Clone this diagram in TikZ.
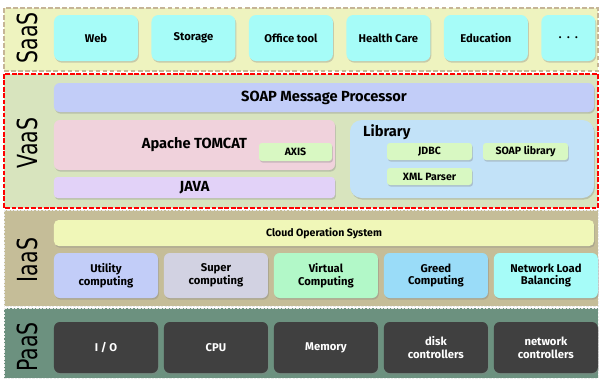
\documentclass[tikz,border=0pt]{standalone}
\usepackage{fontspec}
\setmainfont{Fira Sans}
\newfontfamily\layerfont{DejaVu Sans}
\usetikzlibrary{positioning, shadows}

\definecolor{saasbg}{HTML}{EEF3BF}
\definecolor{saasline}{HTML}{C6B596}
\definecolor{vaasbg}{HTML}{D8E4BE}
\definecolor{iaasbg}{HTML}{C5BD98}
\definecolor{paasbg}{HTML}{6C917F}
\definecolor{cyanbox}{HTML}{A6FCF8}
\definecolor{soapbox}{HTML}{C2CDF8}
\definecolor{tomcatbox}{HTML}{F0D2DC}
\definecolor{greenbox}{HTML}{D8F8C2}
\definecolor{javabox}{HTML}{E2D2F8}
\definecolor{libbox}{HTML}{C2E2F8}
\definecolor{cloudbox}{HTML}{F0F7B8}
\definecolor{superbox}{HTML}{D2D2E2}
\definecolor{virtbox}{HTML}{B2F8C8}
\definecolor{greedbox}{HTML}{9ADCF8}
\definecolor{darkbox}{HTML}{404040}

\begin{document}
\begin{tikzpicture}[
  x=0.03cm, y=-0.03cm,
  box/.style={rounded corners=5pt, inner sep=0pt, align=center,
    font=\bfseries\fontsize{9.6}{11}\selectfont,
    drop shadow={shadow xshift=0.8pt, shadow yshift=-1.4pt, opacity=0.35}},
  small/.style={box, rounded corners=2.5pt, fill=greenbox,
    font=\bfseries\fontsize{9}{10.5}\selectfont},
  big/.style={box, font=\bfseries\fontsize{12.5}{14}\selectfont},
  layername/.style={rotate=90, font=\layerfont\fontsize{17.5}{17.5}\selectfont},
]
\useasboundingbox (0,0) rectangle (601,380);

% layers
\fill[saasbg] (4,8) rectangle (598,71);
\draw[saasline, line width=1.4pt, dash pattern=on 4pt off 2pt] (4,8) rectangle (598,71);
\fill[vaasbg] (4,74) rectangle (598,208);
\draw[red, line width=1.5pt, dash pattern=on 4pt off 1.5pt] (4,74) rectangle (598,208);
\fill[iaasbg] (4,210) rectangle (598,306);
\draw[white!85!gray, line width=0.8pt, dash pattern=on 2pt off 1pt] (4,210) rectangle (598,306);
\fill[paasbg] (4,308) rectangle (598,378);
\draw[white!85!gray, line width=0.8pt, dash pattern=on 2pt off 1pt] (4,308) rectangle (598,378);

\node[layername] (saas) at (27,38)  {\scalebox{1}[1.35]{SaaS}};
\node[layername] (vaas) at (27,143) {\scalebox{1}[1.35]{VaaS}};
\node[layername] (iaas) at (27,260) {\scalebox{1}[1.35]{IaaS}};
\node[layername] (paas) at (27,347) {\scalebox{1}[1.35]{PaaS}};

% SaaS
\tikzset{saas/.style={box, fill=cyanbox, rounded corners=6pt,
  minimum width=2.52cm, minimum height=1.38cm}}
\node[saas] (web) at (96,38) {Web};
\node[saas, right=0.39cm of web]     (storage) {Storage};
\node[saas, right=0.39cm of storage] (office)  {Office tool};
\node[saas, right=0.39cm of office]  (health)  {Health Care};
\node[saas, right=0.39cm of health]  (edu)     {Education};
\node[saas, right=0.39cm of edu, minimum width=1.62cm] (more) {.\ \ .\ \ .};

% VaaS
\node[big, fill=soapbox, minimum width=16.2cm, minimum height=0.87cm] (soap) at (324,97.5) {SOAP Message Processor};
\node[big, fill=tomcatbox, minimum width=8.43cm, minimum height=1.5cm] (tomcat) at (194.5,145) {Apache TOMCAT};
\node[small, minimum width=2.19cm, minimum height=0.54cm] (axis) at (295.5,152) {AXIS};
\node[big, fill=javabox, rounded corners=3pt, minimum width=8.43cm, minimum height=0.63cm] (java) at (194.5,187.5) {JAVA};
\node[box, fill=libbox, rounded corners=10pt, minimum width=7.32cm, minimum height=2.34cm] (lib) at (472,159) {};
\node[font=\bfseries\fontsize{12.5}{14}\selectfont, anchor=west] (libname) at (359,132) {Library};
\node[small, minimum width=2.55cm, minimum height=0.51cm] (jdbc) at (429.5,151.5) {JDBC};
\node[small, minimum width=2.55cm, minimum height=0.51cm] (soaplib) at (525.5,151.5) {SOAP library};
\node[small, minimum width=2.55cm, minimum height=0.51cm] (xml) at (429.5,176.5) {XML Parser};

% IaaS
\node[small, fill=cloudbox, rounded corners=4pt, minimum width=16.2cm, minimum height=0.78cm] (cloud) at (324,233) {Cloud Operation System};
\tikzset{iaas/.style={box, minimum width=3.12cm, minimum height=1.35cm}}
\node[iaas, fill=soapbox] (utility) at (106,275.5) {Utility\\computing};
\node[iaas, fill=superbox, right=0.165cm of utility] (super) {Super\\computing};
\node[iaas, fill=virtbox,  right=0.165cm of super]   (virtual) {Virtual\\Computing};
\node[iaas, fill=greedbox, right=0.165cm of virtual] (greed) {Greed\\Computing};
\node[iaas, fill=cyanbox,  right=0.165cm of greed]   (netload) {Network Load\\Balancing};

% PaaS
\tikzset{paas/.style={box, fill=darkbox, text=white, minimum width=3.12cm, minimum height=1.53cm}}
\node[paas] (io) at (106,347.5) {I / O};
\node[paas, right=0.165cm of io]     (cpu)    {CPU};
\node[paas, right=0.165cm of cpu]    (memory) {Memory};
\node[paas, right=0.165cm of memory] (disk)   {disk\\controllers};
\node[paas, right=0.165cm of disk]   (netctl) {network\\controllers};
\end{tikzpicture}
\end{document}
